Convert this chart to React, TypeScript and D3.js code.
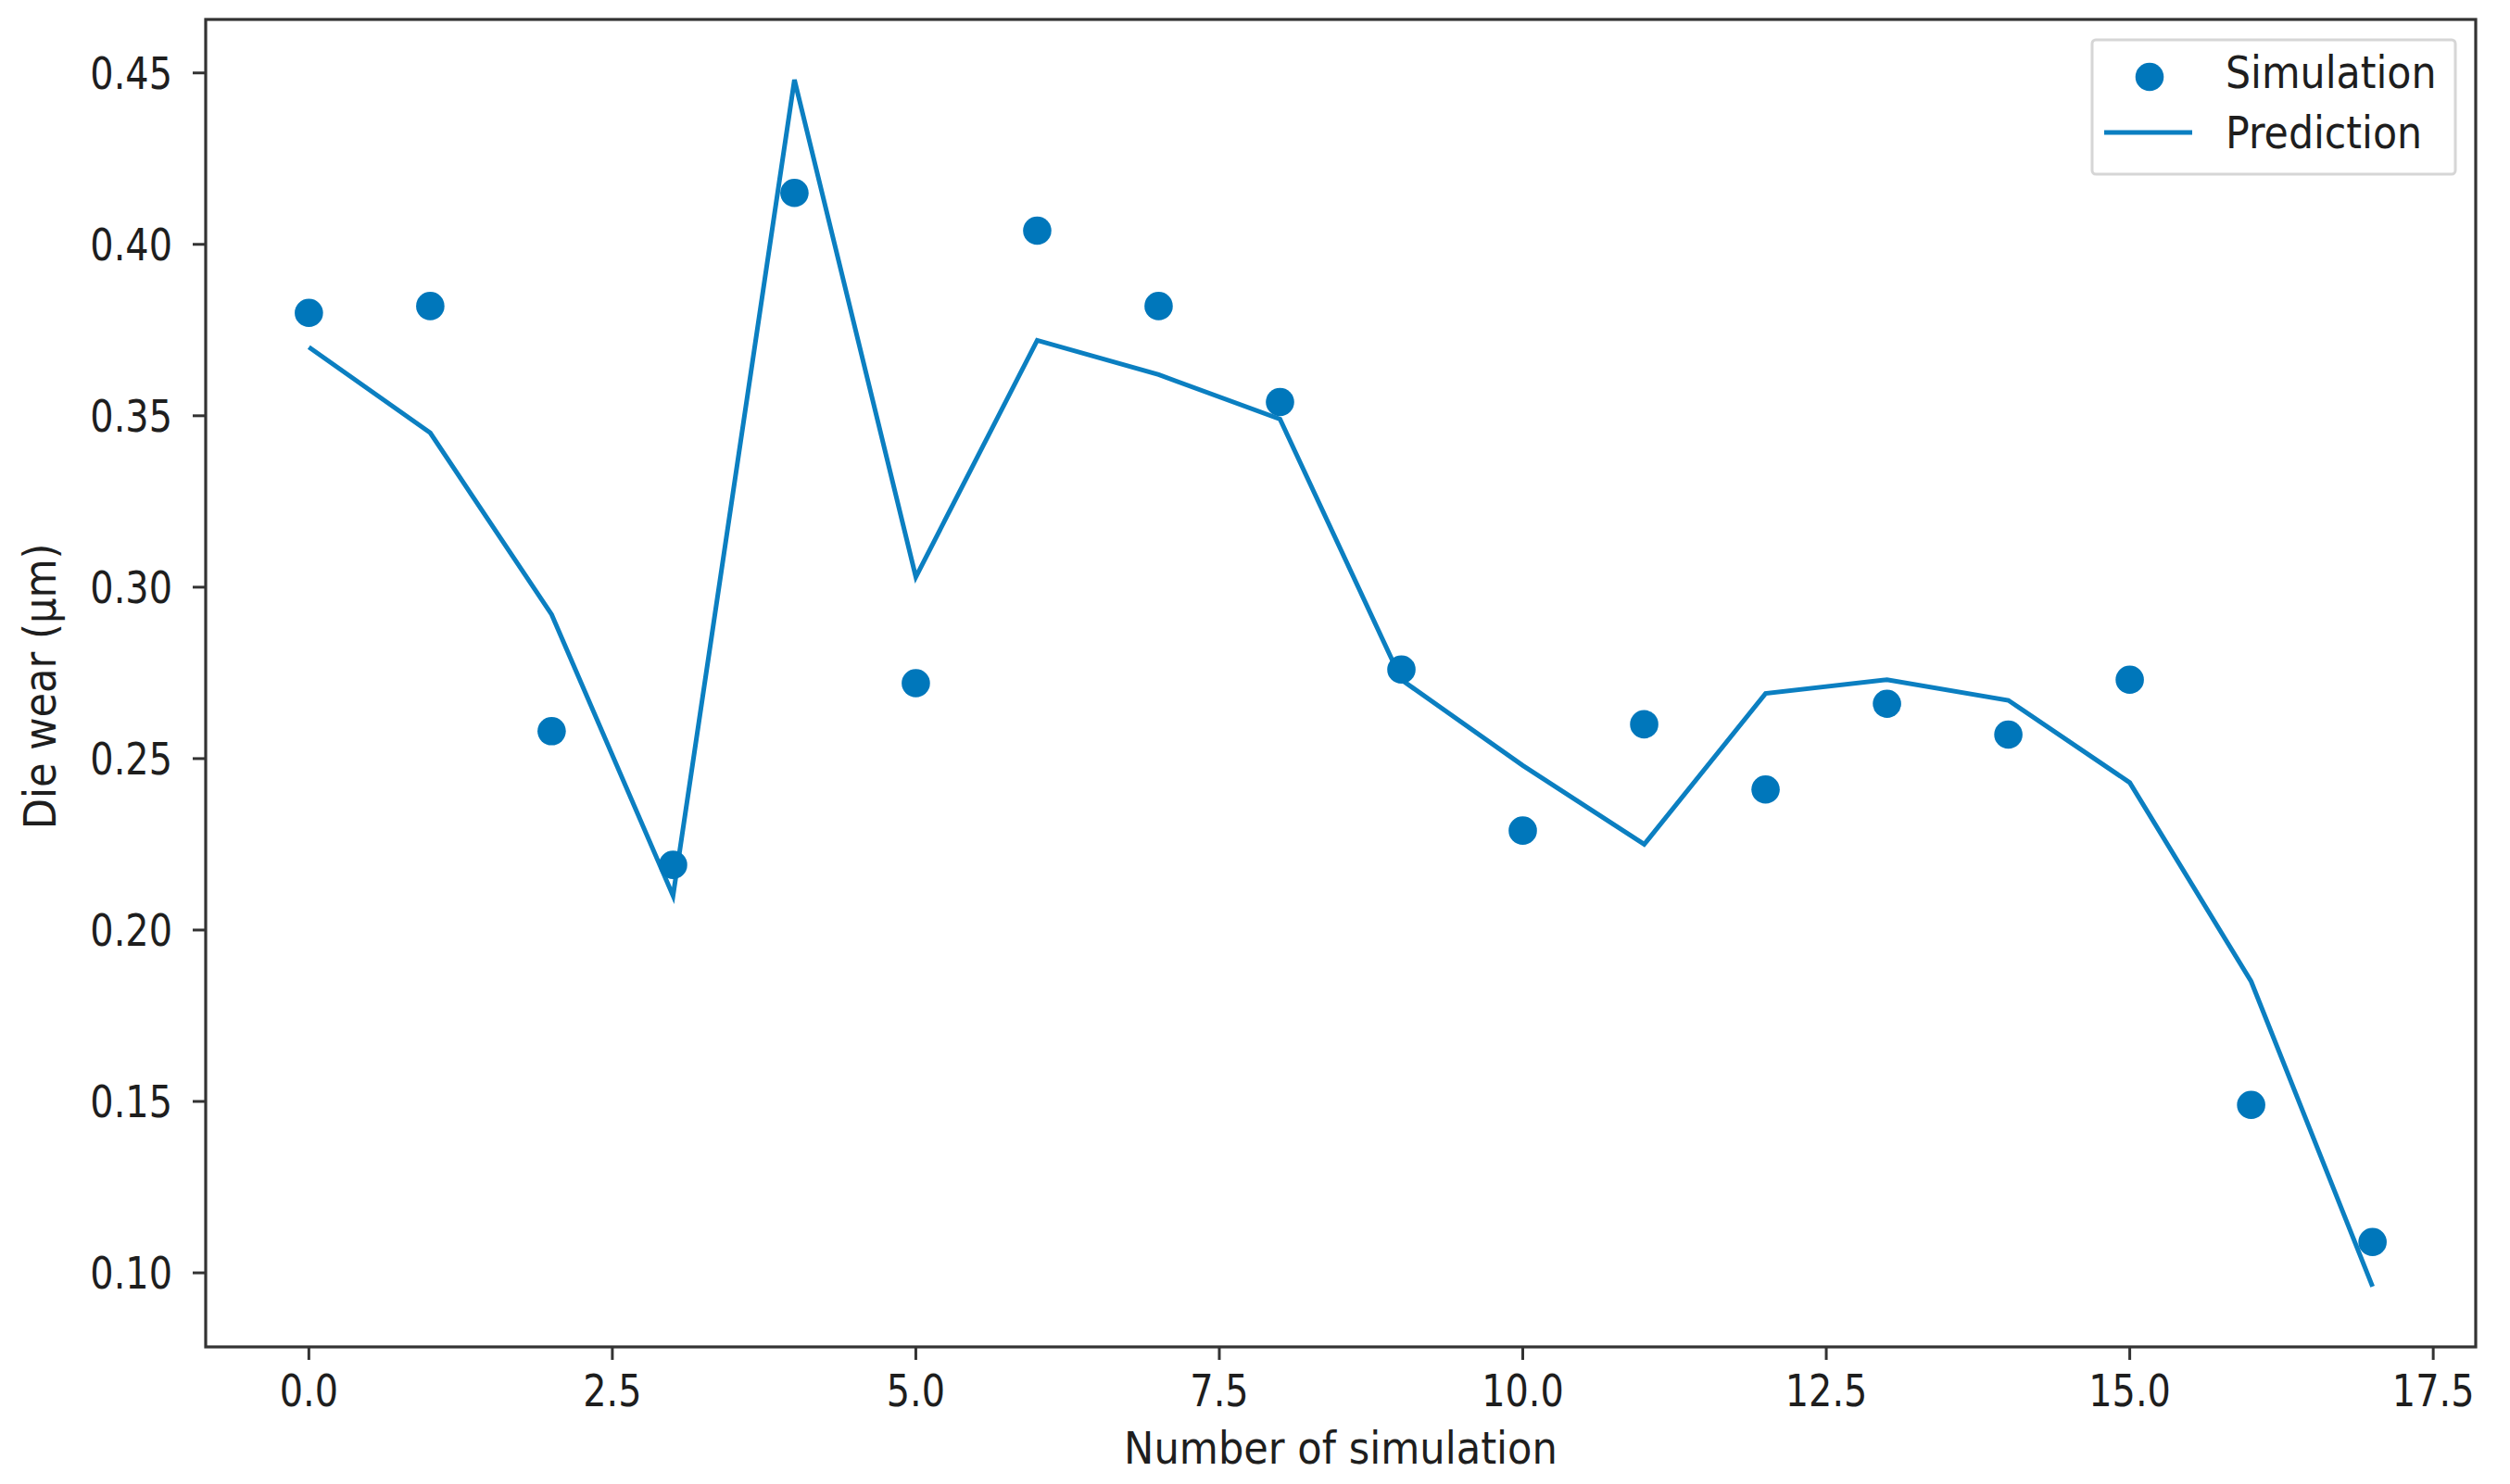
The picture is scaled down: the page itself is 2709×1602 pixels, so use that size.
import React from "react";
import * as d3 from "d3";

const simIndex = [0, 1, 2, 3, 4, 5, 6, 7, 8, 9, 10, 11, 12, 13, 14, 15, 16, 17];
const simulation = [0.380, 0.382, 0.258, 0.219, 0.415, 0.272, 0.404, 0.382, 0.354, 0.276, 0.229, 0.260, 0.241, 0.266, 0.257, 0.273, 0.149, 0.109];
const prediction = [0.370, 0.345, 0.292, 0.210, 0.448, 0.303, 0.372, 0.362, 0.349, 0.273, 0.248, 0.225, 0.269, 0.273, 0.267, 0.243, 0.185, 0.096];
const xTicks = [0, 2.5, 5, 7.5, 10, 12.5, 15, 17.5];
const yTicks = [0.10, 0.15, 0.20, 0.25, 0.30, 0.35, 0.40, 0.45];
const legendLabels = ["Simulation", "Prediction"];
const xLabel = "Number of simulation";
const yLabel = "Die wear (µm)";

const W = 2709;
const H = 1602;
const M = { left: 222, right: 2672, top: 21, bottom: 1454 };
const DOT = "#0077bb";
const LINE = "#0b7fc1";
const SPINE = "#333333";
const TXT = "#1e1e1e";
const FONT = "DejaVu Sans";
const FS = 48;
const SX = 0.86;

function pad(ext: [number, number]): [number, number] {
  const r = ext[1] - ext[0];
  return [ext[0] - 0.05 * r, ext[1] + 0.05 * r];
}

export default function App() {
  const xExt = d3.extent(simIndex) as [number, number];
  const yExt = d3.extent([...simulation, ...prediction]) as [number, number];
  const x = d3.scaleLinear().domain(pad(xExt)).range([M.left, M.right]);
  const y = d3.scaleLinear().domain(pad(yExt)).range([M.bottom, M.top]);
  const line = d3
    .line<number>()
    .x((_, i) => x(simIndex[i]))
    .y((d) => y(d));

  const T = (props: { x: number; y: number; anchor: string; text: string; rotate?: number; sx?: number }) => (
    <text
      transform={`translate(${props.x},${props.y}) rotate(${props.rotate || 0}) scale(${props.sx ?? SX},1)`}
      textAnchor={props.anchor}
      fontFamily={FONT}
      fontSize={FS}
      fill={TXT}
    >
      {props.text}
    </text>
  );

  return (
    <svg width={W} height={H} style={{ position: "absolute", left: 0, top: 0, background: "#fff" }}>
      <rect x={0} y={0} width={W} height={H} fill="#fff" />
      <path d={line(prediction) || ""} fill="none" stroke={LINE} strokeWidth={5} strokeLinejoin="miter" />
      {simulation.map((v, i) => (
        <circle key={i} cx={x(simIndex[i])} cy={y(v)} r={15.3} fill={DOT} />
      ))}
      {/* spines */}
      <rect x={M.left} y={M.top} width={M.right - M.left} height={M.bottom - M.top} fill="none" stroke={SPINE} strokeWidth={3.2} />
      {/* y ticks */}
      {yTicks.map((t) => (
        <g key={"y" + t}>
          <line x1={M.left - 14} x2={M.left} y1={y(t)} y2={y(t)} stroke={SPINE} strokeWidth={3} />
          <T x={M.left - 36} y={y(t) + 17} anchor="end" text={t.toFixed(2)} sx={0.83} />
        </g>
      ))}
      {/* x ticks */}
      {xTicks.map((t) => (
        <g key={"x" + t}>
          <line x1={x(t)} x2={x(t)} y1={M.bottom} y2={M.bottom + 14} stroke={SPINE} strokeWidth={3} />
          <T x={x(t)} y={1518} anchor="middle" text={t.toFixed(1)} sx={0.83} />
        </g>
      ))}
      <T x={(M.left + M.right) / 2} y={1580} anchor="middle" text={xLabel} sx={0.9} />
      <T x={60} y={741} anchor="middle" text={yLabel} rotate={-90} sx={0.9} />
      {/* legend */}
      <rect x={2258} y={43} width={392} height={145} rx={4} fill="#fff" fillOpacity={0.8} stroke="#d6d6d6" strokeWidth={3} />
      <circle cx={2320} cy={83} r={15.3} fill={DOT} />
      <line x1={2271} x2={2366} y1={143} y2={143} stroke={LINE} strokeWidth={5} />
      <T x={2402} y={95} anchor="start" text={legendLabels[0]} sx={0.89} />
      <T x={2402} y={160} anchor="start" text={legendLabels[1]} sx={0.89} />
    </svg>
  );
}
